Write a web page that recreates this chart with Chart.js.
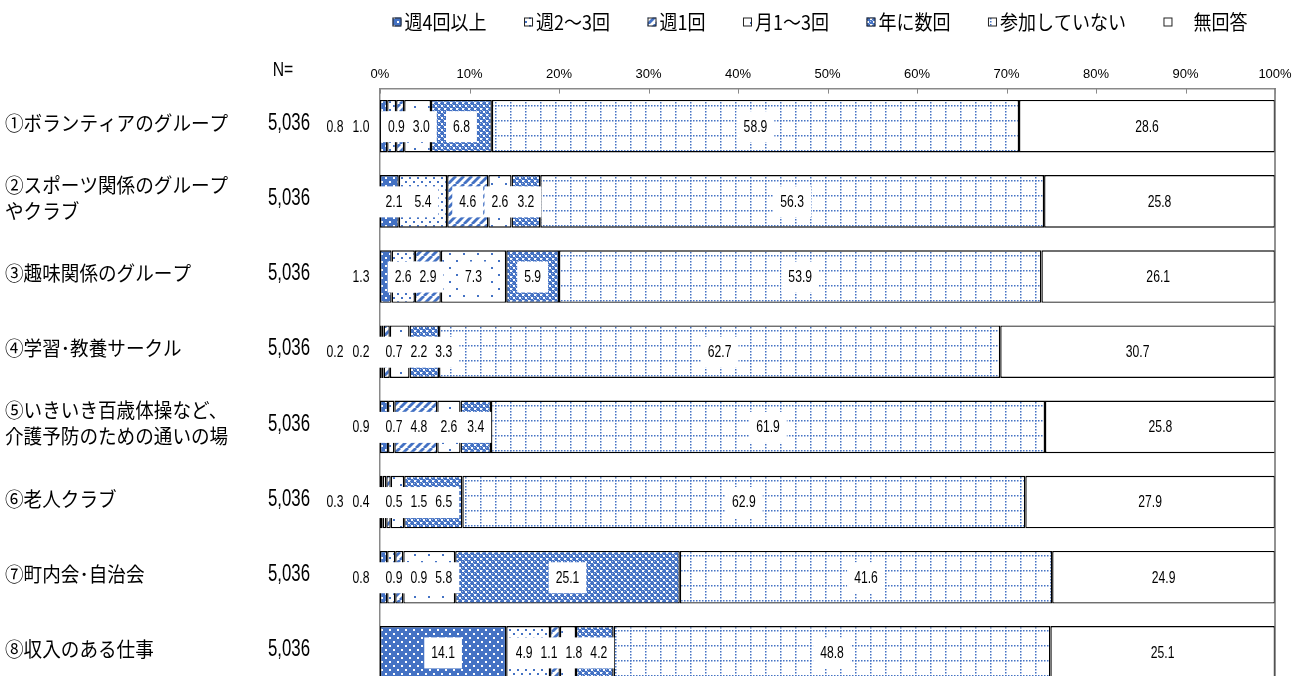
<!DOCTYPE html>
<html lang="ja">
<head>
  <meta charset="UTF-8">
  <title>地域活動への参加頻度</title>
  <script src="https://cdn.jsdelivr.net/npm/chart.js"></script>
  <style>
    html, body {
      margin: 0;
      padding: 0;
      background: #fff;
      overflow: hidden;
    }
    #wrap {
      width: 1301px;
      height: 700px;
    }
  </style>
</head>
<body>
  <div id="wrap"><canvas id="chart" width="1301" height="700"></canvas></div>

  <script>
    // categories (two-line labels are arrays)
    const categories = [
      "①ボランティアのグループ",
      ["②スポーツ関係のグループ", "やクラブ"],
      "③趣味関係のグループ",
      "④学習･教養サークル",
      ["⑤いきいき百歳体操など、", "介護予防のための通いの場"],
      "⑥老人クラブ",
      "⑦町内会･自治会",
      "⑧収入のある仕事"
    ];
    const sampleSizes = [5036, 5036, 5036, 5036, 5036, 5036, 5036, 5036];

    const seriesNames = ["週4回以上", "週2～3回", "週1回", "月1～3回", "年に数回", "参加していない", "　無回答"];

    // values in percent
    const weekly4 =     [0.8, 2.1, 1.3, 0.2, 0.9, 0.3, 0.8, 14.1];
    const weekly2to3 =  [1.0, 5.4, 2.6, 0.2, 0.7, 0.4, 0.9, 4.9];
    const weekly1 =     [0.9, 4.6, 2.9, 0.7, 4.8, 0.5, 0.9, 1.1];
    const monthly1to3 = [3.0, 2.6, 7.3, 2.2, 2.6, 1.5, 5.8, 1.8];
    const fewPerYear =  [6.8, 3.2, 5.9, 3.3, 3.4, 6.5, 25.1, 4.2];
    const notJoining =  [58.9, 56.3, 53.9, 62.7, 61.9, 62.9, 41.6, 48.8];
    const noAnswer =    [28.6, 25.8, 26.1, 30.7, 25.8, 27.9, 24.9, 25.1];

    // how many leading labels of each row sit left of the axis
    const outsideLabels = [2, 0, 1, 2, 1, 2, 1, 0];

    const xTicks = [0, 10, 20, 30, 40, 50, 60, 70, 80, 90, 100];

    const BLUE = "#4472c4";
    const JP_FONT = "'Noto Sans CJK JP', 'Noto Sans', sans-serif";
    const NUM_FONT = "'Liberation Sans', Arial, sans-serif";

    // ---- fill patterns ----
    function makePattern(w, h, paint) {
      const c = document.createElement("canvas");
      c.width = w;
      c.height = h;
      const g = c.getContext("2d");
      paint(g, w, h);
      return g.createPattern(c, "repeat");
    }

    const patterns = [
      // 週4回以上: blue with white dots
      makePattern(8, 8, (g) => {
        g.fillStyle = BLUE; g.fillRect(0, 0, 8, 8);
        g.fillStyle = "#fff";
        g.fillRect(1, 1, 2, 2); g.fillRect(5, 5, 2, 2);
      }),
      // 週2～3回: white with blue dots
      makePattern(8, 8, (g) => {
        g.fillStyle = "#fff"; g.fillRect(0, 0, 8, 8);
        g.fillStyle = BLUE;
        g.fillRect(1, 1, 2, 2); g.fillRect(5, 5, 2, 2);
      }),
      // 週1回: diagonal stripes
      makePattern(8, 8, (g) => {
        g.fillStyle = "#fff"; g.fillRect(0, 0, 8, 8);
        g.strokeStyle = BLUE; g.lineWidth = 2.8;
        [-8, 0, 8].forEach(o => {
          g.beginPath(); g.moveTo(o, 8); g.lineTo(o + 8, 0); g.stroke();
        });
      }),
      // 月1～3回: white with sparse blue dots
      makePattern(14, 14, (g) => {
        g.fillStyle = "#fff"; g.fillRect(0, 0, 14, 14);
        g.fillStyle = BLUE;
        g.fillRect(1, 1, 2, 2); g.fillRect(8, 8, 2, 2);
      }),
      // 年に数回: blue with small white lattice
      makePattern(6, 6, (g) => {
        g.fillStyle = BLUE; g.fillRect(0, 0, 6, 6);
        g.fillStyle = "#fff";
        g.fillRect(0, 0, 2, 2); g.fillRect(3, 3, 2, 2);
        g.fillStyle = "rgba(255,255,255,0.55)";
        g.fillRect(2, 2, 1, 1); g.fillRect(5, 5, 1, 1);
        g.fillRect(2, 0, 1, 1); g.fillRect(0, 3, 1, 1);
      }),
      // 参加していない: dotted grid
      makePattern(15, 15, (g) => {
        g.fillStyle = "#fff"; g.fillRect(0, 0, 15, 15);
        g.fillStyle = BLUE;
        for (let i = 0; i < 15; i += 3) {
          g.fillRect(i, 0, 1.5, 1.5);
          g.fillRect(0, i, 1.5, 1.5);
        }
      }),
      // 無回答: plain white
      "#ffffff"
    ];

    const seriesValues = [weekly4, weekly2to3, weekly1, monthly1to3, fewPerYear, notJoining, noAnswer];

    // draws text squeezed horizontally, like the narrow office font
    function narrowText(ctx, text, x, y, sx) {
      ctx.save();
      ctx.translate(x, y);
      ctx.scale(sx, 1);
      ctx.fillText(text, 0, 0);
      ctx.restore();
    }

    // spread crowded labels apart, keeping groups centred on their segments
    function placeLabels(items, minLeft, gap) {
      const blocks = [];
      items.forEach(it => {
        blocks.push({ items: [it], offs: [0], start: Math.max(it.c, minLeft) });
        while (blocks.length > 1) {
          const b2 = blocks[blocks.length - 1];
          const b1 = blocks[blocks.length - 2];
          const last = b1.items[b1.items.length - 1];
          const need = (last.w + b2.items[0].w) / 2 + gap;
          const end1 = b1.start + b1.offs[b1.offs.length - 1];
          if (b2.start - end1 >= need) break;
          const base = b1.offs[b1.offs.length - 1] + need;
          b2.items.forEach((x, i) => { b1.items.push(x); b1.offs.push(base + b2.offs[i]); });
          let s = 0;
          b1.items.forEach((x, i) => { s += x.c - b1.offs[i]; });
          b1.start = Math.max(s / b1.items.length, minLeft);
          blocks.pop();
        }
      });
      blocks.forEach(b => b.items.forEach((it, i) => { it.x = b.start + b.offs[i]; }));
    }

    const LABEL_SX = 0.76;

    const segmentLabels = {
      id: "segmentLabels",
      afterDatasetsDraw(chart) {
        const ctx = chart.ctx;
        const area = chart.chartArea;
        ctx.save();
        ctx.font = "16px " + NUM_FONT;
        ctx.textAlign = "center";
        ctx.textBaseline = "middle";
        categories.forEach((cat, row) => {
          const items = chart.data.datasets.map((ds, di) => {
            const bar = chart.getDatasetMeta(di).data[row];
            const txt = ds.data[row].toFixed(1);
            return { txt, c: (bar.x + bar.base) / 2, y: bar.y, w: ctx.measureText(txt).width * LABEL_SX };
          });
          const nOut = outsideLabels[row];
          ctx.fillStyle = "#000";
          for (let k = 0; k < nOut; k++) {
            narrowText(ctx, items[k].txt, area.left - 19 - (nOut - 1 - k) * 26, items[k].y + 1, LABEL_SX);
          }
          const inside = items.slice(nOut);
          placeLabels(inside, area.left + 14, 8);
          ctx.fillStyle = "#fff";
          inside.forEach(it => ctx.fillRect(it.x - it.w / 2 - 7, it.y - 15, it.w + 14, 31));
          ctx.fillStyle = "#000";
          inside.forEach(it => narrowText(ctx, it.txt, it.x, it.y + 1, LABEL_SX));
        });
        ctx.restore();
      }
    };

    const frameAndText = {
      id: "frameAndText",
      afterDraw(chart) {
        const ctx = chart.ctx;
        const area = chart.chartArea;
        const xs = chart.scales.x;
        const ys = chart.scales.y;
        ctx.save();

        // right frame and inner tick marks
        ctx.strokeStyle = "#6e6e6e";
        ctx.lineWidth = 1.5;
        ctx.beginPath();
        ctx.moveTo(area.right, area.top);
        ctx.lineTo(area.right, area.bottom);
        ctx.stroke();
        ctx.strokeStyle = "#898989";
        ctx.lineWidth = 1;
        xs.ticks.forEach(t => {
          const x = Math.round(xs.getPixelForValue(t.value)) + 0.5;
          ctx.beginPath();
          ctx.moveTo(x, area.top);
          ctx.lineTo(x, area.top + 5);
          ctx.stroke();
        });

        // category labels and N column
        ctx.fillStyle = "#000";
        ctx.textBaseline = "middle";
        categories.forEach((cat, i) => {
          const y = ys.getPixelForValue(i) - 3;
          const lines = Array.isArray(cat) ? cat : [cat];
          ctx.font = "20px " + JP_FONT;
          ctx.textAlign = "left";
          lines.forEach((ln, k) => {
            narrowText(ctx, ln, 5, y + (k - (lines.length - 1) / 2) * 26, 0.93);
          });
          ctx.font = "24px " + NUM_FONT;
          ctx.textAlign = "center";
          narrowText(ctx, sampleSizes[i].toLocaleString("en-US"), 289, y, 0.7);
        });
        ctx.font = "21px " + NUM_FONT;
        ctx.textAlign = "center";
        narrowText(ctx, "N=", 283, 70, 0.75);

        // legend
        ctx.font = "20px " + JP_FONT;
        ctx.textAlign = "left";
        const sx = 0.9;
        const widths = seriesNames.map(n => ctx.measureText(n).width * sx);
        const box = 9, boxGap = 3, itemGap = 37.5;
        const total = widths.reduce((a, w) => a + box + boxGap + w, 0) + itemGap * (seriesNames.length - 1);
        let x = 820 - total / 2;
        const ly = 22;
        seriesNames.forEach((n, i) => {
          ctx.fillStyle = patterns[i];
          ctx.fillRect(x, ly - box / 2, box, box);
          ctx.strokeStyle = "#222";
          ctx.lineWidth = 1;
          ctx.strokeRect(x + 0.5, ly - box / 2 + 0.5, box - 1, box - 1);
          ctx.fillStyle = "#000";
          narrowText(ctx, n, x + box + boxGap, ly, sx);
          x += box + boxGap + widths[i] + itemGap;
        });
        ctx.restore();
      }
    };

    const datasets = seriesNames.map((name, i) => ({
      label: name.trim(),
      data: seriesValues[i],
      backgroundColor: patterns[i],
      borderColor: "#000",
      borderWidth: 1.4,
      borderSkipped: false,
      barPercentage: 0.7,
      categoryPercentage: 1.0
    }));

    new Chart(document.getElementById("chart").getContext("2d"), {
      type: "bar",
      data: { labels: categories, datasets: datasets },
      plugins: [segmentLabels, frameAndText],
      options: {
        indexAxis: "y",
        responsive: false,
        animation: false,
        layout: { padding: { top: 61, left: 380, right: 26, bottom: 10 } },
        plugins: {
          legend: { display: false },
          tooltip: { enabled: false }
        },
        scales: {
          x: {
            position: "top",
            stacked: true,
            min: 0,
            max: 100,
            afterBuildTicks: (scale) => { scale.ticks = xTicks.map(v => ({ value: v })); },
            afterFit: (scale) => { scale.paddingLeft = 0; scale.paddingRight = 0; },
            ticks: {
              padding: 6,
              color: "#000",
              font: { family: NUM_FONT, size: 13 },
              callback: (v) => v + "%"
            },
            grid: { display: false, drawTicks: false },
            border: { display: true, color: "#898989", width: 1.5 }
          },
          y: {
            stacked: true,
            ticks: { display: false },
            grid: { display: false, drawTicks: false },
            border: { display: true, color: "#898989", width: 1.5 },
            afterFit: (scale) => { scale.width = 0; }
          }
        }
      }
    });
  </script>
</body>
</html>
